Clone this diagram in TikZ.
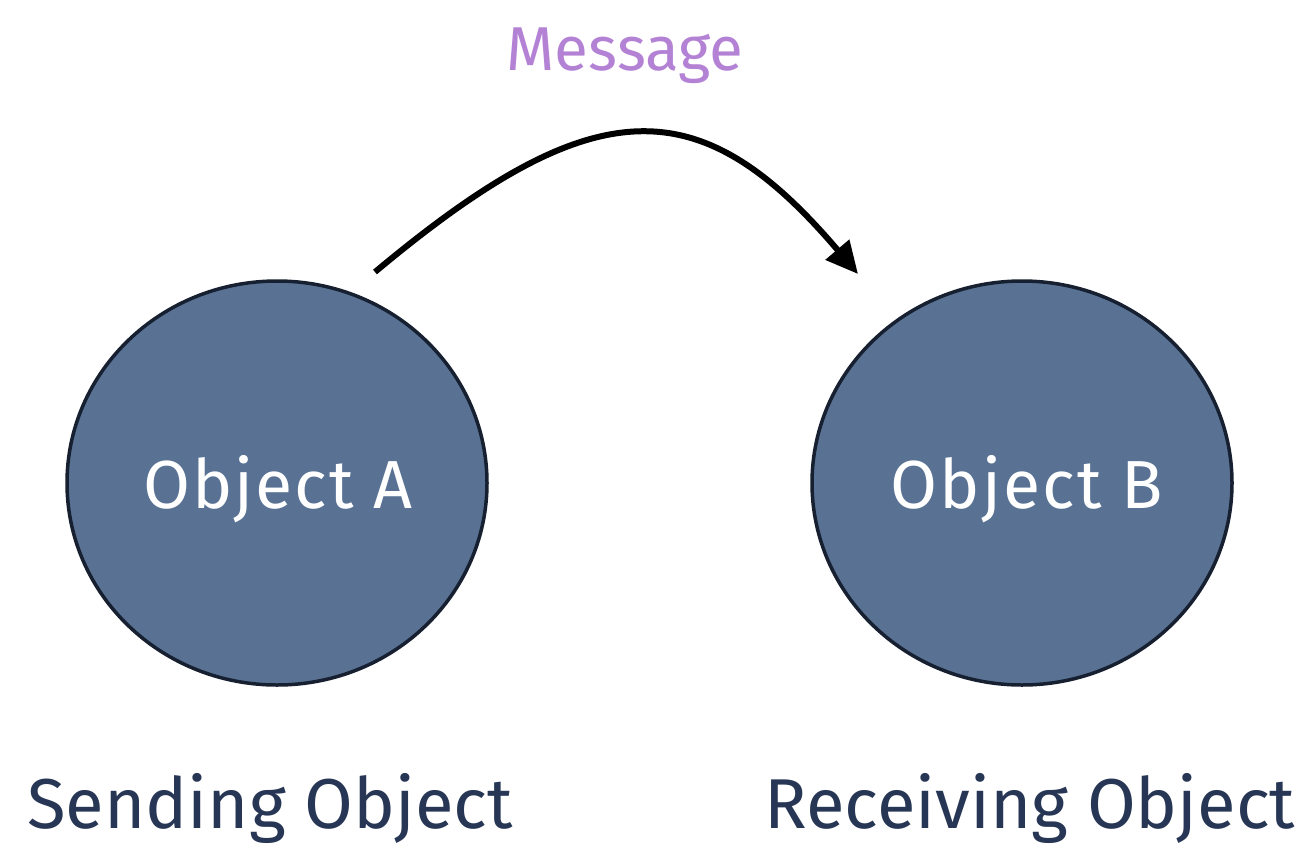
\documentclass[tikz,border=0pt]{standalone}
\usepackage{fontspec}
\setmainfont{Fira Sans}
\usetikzlibrary{shapes.geometric,arrows.meta}
\definecolor{objfill}{RGB}{89,114,148}
\definecolor{objline}{RGB}{22,32,48}
\definecolor{msgcol}{RGB}{180,130,212}
\definecolor{capcol}{RGB}{38,54,84}
\tikzset{
  objnode/.style={ellipse, draw=objline, line width=1.75pt, fill=objfill,
    minimum width=210pt, minimum height=202pt, inner sep=0pt},
  objtext/.style={text=white, font=\fontsize{34}{38}\selectfont\addfontfeature{LetterSpace=3}, anchor=base},
  captext/.style={text=capcol, font=\fontsize{35.3}{42}\selectfont, anchor=base},
  msgtext/.style={text=msgcol, font=\fontsize{31}{38}\selectfont, anchor=base},
  msgarrow/.style={line width=3pt, draw=black,
    -{Triangle[length=16pt,width=15pt]}}
}
\begin{document}
\begin{tikzpicture}[x=0.5pt,y=-0.5pt]
  \useasboundingbox (0,0) rectangle (1311,846);
  % the two objects
  \node[objnode] (A) at (277,483) {};
  \node[objnode] (B) at (1022,483) {};
  \node[objtext] (labA) at (278,508) {Object A};
  \node[objtext] (labB) at (1027,508) {Object B};
  % captions under the objects
  \node[captext] (capA) at (270,828) {Sending Object};
  \node[captext] (capB) at (1030,828) {Receiving Object};
  % the message passed from A to B
  \node[msgtext] (msg) at (625,70) {Message};
  \coordinate (msgstart) at (375,272);
  \coordinate (msgend) at (858,274);
  \draw[msgarrow] (msgstart) .. controls (595,88) and (700,88) .. (msgend);
\end{tikzpicture}
\end{document}
